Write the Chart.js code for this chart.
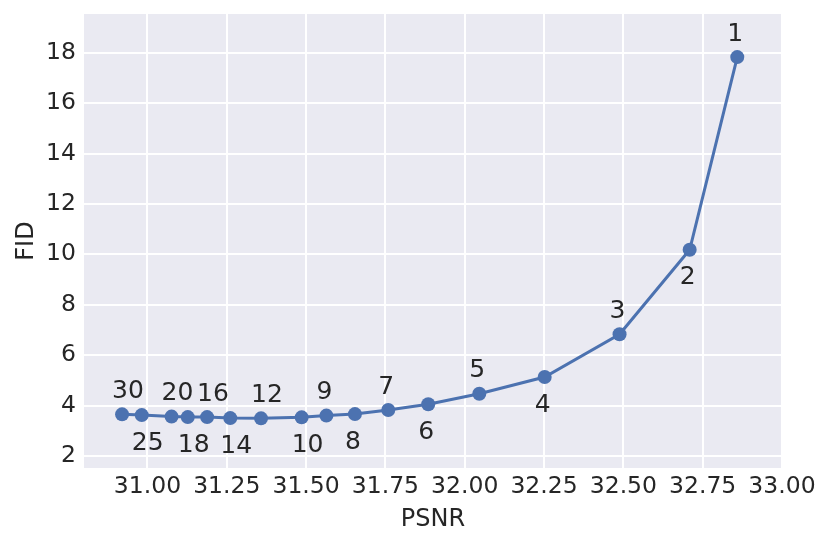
<!DOCTYPE html>
<html>
<head>
<meta charset="utf-8">
<script src="https://cdn.jsdelivr.net/npm/chart.js@4/dist/chart.umd.min.js"></script>
<style>
  body { margin: 0; background: #fff; }
</style>
</head>
<body>
<canvas id="myChart" width="831" height="546"></canvas>
<script>
// step count of each point, PSNR (x) and FID (y)
var steps = [30, 25, 20, 18, 16, 14, 12, 10, 9, 8, 7, 6, 5, 4, 3, 2, 1];
var psnr = [30.920, 30.982, 31.076, 31.127, 31.188, 31.261, 31.358, 31.486, 31.564, 31.654, 31.759, 31.885, 32.046, 32.252, 32.488, 32.709, 32.859];
var fid = [3.65, 3.62, 3.56, 3.54, 3.54, 3.50, 3.49, 3.53, 3.60, 3.66, 3.82, 4.05, 4.47, 5.13, 6.83, 10.18, 17.83];
var xTicks = [31.00, 31.25, 31.50, 31.75, 32.00, 32.25, 32.50, 32.75, 33.00];
var yTicks = [2, 4, 6, 8, 10, 12, 14, 16, 18];

var textColor = '#262626';
var lineColor = '#4C72B0';
var font = 'DejaVu Sans';

var points = psnr.map(function(v, i) { return { x: v, y: fid[i] }; });

// grey plot background
var bgPlugin = {
  id: 'bg',
  beforeDraw: function(chart) {
    var a = chart.chartArea;
    var c = chart.ctx;
    c.save();
    c.fillStyle = '#EAEAF2';
    c.fillRect(a.left, a.top, a.right - a.left, a.bottom - a.top);
    c.restore();
  }
};

// step numbers next to points, alternating above / below
var labelPlugin = {
  id: 'stepLabels',
  afterDatasetsDraw: function(chart) {
    var c = chart.ctx;
    var xs = chart.scales.x;
    var ys = chart.scales.y;
    c.save();
    c.font = '25px "' + font + '"';
    c.fillStyle = textColor;
    c.textAlign = 'left';
    c.textBaseline = 'middle';
    steps.forEach(function(s, i) {
      var px = xs.getPixelForValue(psnr[i]);
      var py = ys.getPixelForValue(fid[i]);
      var dy = (i % 2 === 0) ? -23 : 28;
      c.fillText(String(s), px - 10, py + dy);
    });
    c.restore();
  }
};

var ctx = document.getElementById('myChart');
var myChart = new Chart(ctx, {
  type: 'scatter',
  data: {
    datasets: [{
      data: points,
      showLine: true,
      borderColor: lineColor,
      backgroundColor: lineColor,
      borderWidth: 3,
      pointRadius: 7,
      pointHoverRadius: 7,
      pointBorderWidth: 0
    }]
  },
  options: {
    responsive: false,
    animation: false,
    layout: { padding: { left: 0, right: 49, top: 14, bottom: 0 } },
    plugins: {
      legend: { display: false },
      tooltip: { enabled: false }
    },
    scales: {
      x: {
        type: 'linear',
        min: 30.8,
        max: 33.0,
        afterBuildTicks: function(scale) {
          scale.ticks = xTicks.map(function(v) { return { value: v }; });
        },
        afterFit: function(scale) {
          scale.height = 78;
          scale.paddingLeft = 0;
          scale.paddingRight = 0;
        },
        border: { display: false },
        grid: { color: '#ffffff', lineWidth: 2, drawTicks: false },
        ticks: {
          color: textColor,
          font: { family: font, size: 23.5 },
          padding: 5,
          maxRotation: 0,
          autoSkip: false,
          callback: function(v) { return Number(v).toFixed(2); }
        },
        title: {
          display: true,
          text: 'PSNR',
          color: textColor,
          font: { family: font, size: 24 },
          padding: { top: 0, bottom: 12 }
        }
      },
      y: {
        type: 'linear',
        min: 1.52,
        max: 19.54,
        afterBuildTicks: function(scale) {
          scale.ticks = yTicks.map(function(v) { return { value: v }; });
        },
        afterFit: function(scale) {
          scale.width = 84;
          scale.paddingTop = 0;
          scale.paddingBottom = 0;
        },
        border: { display: false },
        grid: { color: '#ffffff', lineWidth: 2, drawTicks: false },
        ticks: {
          color: textColor,
          font: { family: font, size: 23.5 },
          padding: 8,
          autoSkip: false
        },
        title: {
          display: true,
          text: 'FID',
          color: textColor,
          font: { family: font, size: 24 },
          padding: { top: 12, bottom: 0 }
        }
      }
    }
  },
  plugins: [bgPlugin, labelPlugin]
});
</script>
</body>
</html>
